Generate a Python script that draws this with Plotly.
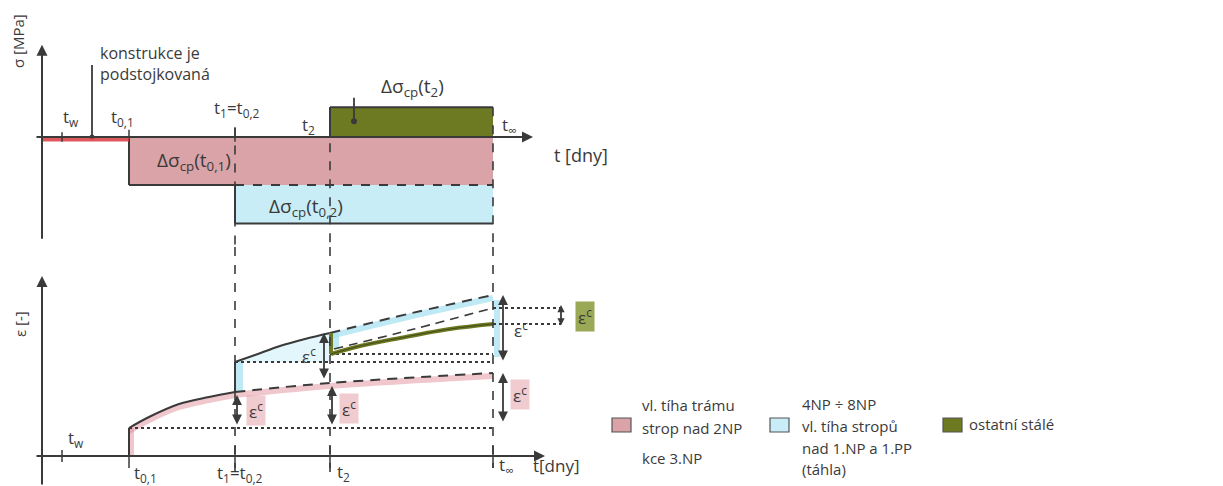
import plotly.graph_objects as go

# ---------------- data (schematic) ----------------
# time instants [days, schematic scale]
t_w, t_podst, t_01, t_1, t_2, t_inf = 20, 50, 87, 193, 288, 451
time_labels = ["t<sub>w</sub>", "t<sub>0,1</sub>", "t<sub>1</sub>=t<sub>0,2</sub>", "t<sub>2</sub>", "t<sub>∞</sub>"]

# stress increments [MPa, schematic]
ds_01 = -1.0   # vl. tíha trámu ... (pink)
ds_02 = -0.8   # 4NP ÷ 8NP ... (cyan)
ds_2 = 0.62    # ostatní stálé (olive)

# strain [-, schematic]
pink_el = 0.28
pink_creep_t = [87, 107, 137, 167, 193]
pink_creep_e = [0.28, 0.39, 0.52, 0.59, 0.64]
pink_fut_t = [193, 288, 451]
pink_fut_e = [0.64, 0.73, 0.83]

cyan_el = 0.94
cyan_creep_t = [193, 213, 238, 263, 288]
cyan_creep_e = [0.94, 1.01, 1.10, 1.17, 1.23]
cyan_fut_t = [288, 370, 451]
cyan_fut_e = [1.23, 1.43, 1.61]

olive_el = 1.02
olive_t = [289, 318, 358, 408, 451]
olive_e = [1.02, 1.10, 1.18, 1.27, 1.32]
cyan_shift_t = [292, 372, 451]
cyan_shift_e = [1.07, 1.27, 1.48]

legend_lines = [
    ["vl. tíha trámu", "strop nad 2NP", "kce 3.NP"],
    ["4NP ÷ 8NP", "vl. tíha stropů", "nad 1.NP a 1.PP", "(táhla)"],
    ["ostatní stálé"],
]

# ---------------- styles ----------------
INK = "#3a3a3a"
PINK = "#d9a3a7"
CYAN = "#c8edf7"
OLIVE = "#6e7a22"
PINK_HL = "rgba(222,130,142,0.45)"
CYAN_HL = "rgba(170,225,242,0.75)"
FONT = "Open Sans"
W, H = 1215, 478   # page adds an 8px body margin

fig = go.Figure()
shapes = []
ann = []


def seg(x0, y0, x1, y1, yref, color=INK, width=2, dash="solid"):
    shapes.append(dict(type="line", xref="x", yref=yref, x0=x0, y0=y0, x1=x1, y1=y1,
                       line=dict(color=color, width=width, dash=dash)))


def arrow(x, y, ax, ay, yref, double=False, width=1.8, size=1.1):
    ann.append(dict(x=x, y=y, ax=ax, ay=ay, xref="x", yref=yref, axref="x", ayref=yref,
                    text="", showarrow=True, arrowhead=2, arrowsize=size, arrowwidth=width,
                    arrowcolor=INK, arrowside="end+start" if double else "end", standoff=0,
                    startstandoff=0))


def label(x, y, text, yref, size=16, xanchor="center", yanchor="middle", angle=0, bg=None,
          align="center"):
    d = dict(x=x, y=y, xref="x", yref=yref, text=text, showarrow=False, xanchor=xanchor,
             yanchor=yanchor, textangle=angle, align=align,
             font=dict(family=FONT, size=size, color=INK))
    if bg:
        d.update(bgcolor=bg, borderpad=2)
    ann.append(d)


# ================= TOP PANEL: stress =================
s_pink_bot = ds_01
s_cyan_bot = ds_01 + ds_02
shapes.append(dict(type="rect", xref="x", yref="y", x0=t_01, x1=t_inf, y0=0, y1=s_pink_bot,
                   fillcolor=PINK, line=dict(width=0), layer="below"))
shapes.append(dict(type="rect", xref="x", yref="y", x0=t_1, x1=t_inf, y0=s_pink_bot, y1=s_cyan_bot,
                   fillcolor=CYAN, line=dict(width=0), layer="below"))
shapes.append(dict(type="rect", xref="x", yref="y", x0=t_2, x1=t_inf, y0=0, y1=ds_2,
                   fillcolor=OLIVE, line=dict(width=0), layer="below"))
seg(t_01, 0, t_01, s_pink_bot, "y")
seg(t_01, s_pink_bot, t_1, s_pink_bot, "y")
seg(t_1, s_pink_bot, t_inf, s_pink_bot, "y", dash="dash")
seg(t_1, s_pink_bot, t_1, s_cyan_bot, "y")
seg(t_1, s_cyan_bot, t_inf, s_cyan_bot, "y")
seg(t_2, 0, t_2, ds_2, "y")
seg(t_2, ds_2, t_inf, ds_2, "y")
seg(0, -0.04, t_01, -0.04, "y", color="rgba(215,60,65,0.85)", width=5)
# axes
arrow(0, 1.92, 0, -2.15, "y", width=2)
arrow(t_inf + 40, 0, -7, 0, "y", width=2)
# ticks
seg(t_w, -0.1, t_w, 0.1, "y", width=1.5)
seg(t_01, 0, t_01, 0.15, "y", width=1.5)
seg(t_1, -0.1, t_1, 0.2, "y", width=1.5)
# "konstrukce je podstojkovaná" marker
seg(t_podst, 0, t_podst, 1.5, "y", width=1.8)
fig.add_trace(go.Scatter(x=[t_podst], y=[0], mode="markers", marker=dict(color=INK, size=5),
                         xaxis="x", yaxis="y", hoverinfo="skip"))
label(t_podst + 6, 2.02, "konstrukce je<br>podstojkovaná", "y", size=16, xanchor="left",
      yanchor="top", align="left")
seg(t_2 + 24, 0.34, t_2 + 24, 0.82, "y", width=1.8)
fig.add_trace(go.Scatter(x=[t_2 + 24], y=[0.33], mode="markers", marker=dict(color=INK, size=6),
                         xaxis="x", yaxis="y", hoverinfo="skip"))
label(t_w + 9, 0.4, time_labels[0], "y", size=17)
label(t_01 - 20, 0.4, time_labels[1], "y", size=17, xanchor="left")
label(t_1 + 2, 0.6, time_labels[2], "y", size=17)
label(t_2 - 22, 0.25, time_labels[3], "y", size=17)
label(t_inf + 7, 0.25, time_labels[4], "y", size=17, xanchor="left")
label(t_inf + 88, -0.38, "t [dny]", "y", size=18)
label(-24, 2.0, "σ [MPa]", "y", size=15, angle=-90)
label((t_01 + t_1) / 2 + 12, s_pink_bot / 2, "Δσ<sub>cp</sub>(t<sub>0,1</sub>)", "y", size=19)
label(t_2 - 24, (s_pink_bot + s_cyan_bot) / 2 - 0.05, "Δσ<sub>cp</sub>(t<sub>0,2</sub>)", "y", size=19)
label(t_2 + 82, ds_2 + 0.42, "Δσ<sub>cp</sub>(t<sub>2</sub>)", "y", size=19)

for tx, top in [(t_1, 0.2), (t_2, ds_2), (t_inf, ds_2)]:
    seg(tx, top, tx, -2.30, "y", width=1.6, dash="dash")


# ================= BOTTOM PANEL: strain =================
def line_trace(x, y, color=INK, width=2, dash="solid", shape="spline", fill=None, fillcolor=None):
    fig.add_trace(go.Scatter(x=x, y=y, mode="lines", xaxis="x", yaxis="y2", hoverinfo="skip",
                             line=dict(color=color, width=width, dash=dash, shape=shape),
                             fill=fill, fillcolor=fillcolor))


line_trace(cyan_creep_t + [t_2, t_1], cyan_creep_e + [cyan_el, cyan_el], color="rgba(0,0,0,0)",
           width=0, shape="linear", fill="toself", fillcolor="rgba(200,237,247,0.5)")
line_trace([t_01 + 2, t_01 + 2], [0, pink_el], color=PINK_HL, width=6, shape="linear")
line_trace(pink_creep_t, [e - 0.03 for e in pink_creep_e], color=PINK_HL, width=6)
line_trace(pink_fut_t, [e - 0.03 for e in pink_fut_e], color=PINK_HL, width=6)
line_trace([t_1 + 4, t_1 + 4], [pink_creep_e[-1], cyan_el], color=CYAN_HL, width=8, shape="linear")
line_trace(cyan_fut_t, [e - 0.03 for e in cyan_fut_e], color=CYAN_HL, width=6)
line_trace([t_inf + 4, t_inf + 4], [cyan_el + 0.05, cyan_fut_e[-1] - 0.05], color=CYAN_HL, width=6,
           shape="linear")
line_trace([t_2 + 6, t_2 + 6], [olive_el + 0.05, cyan_creep_e[-1]], color=CYAN_HL, width=6, shape="linear")

for lvl, t0, t1 in [(pink_el, t_01, t_inf), (cyan_el, t_1, t_inf), (olive_el, t_2, t_inf),
                    (cyan_shift_e[-1], t_inf, t_inf + 68), (olive_e[-1], t_inf, t_inf + 68)]:
    line_trace([t0, t1], [lvl, lvl], color=INK, width=2, dash="dot", shape="linear")

line_trace([t_01, t_01], [0, pink_el], shape="linear")
line_trace(pink_creep_t, pink_creep_e)
line_trace(pink_fut_t, pink_fut_e, dash="10px,7px")
line_trace([t_1, t_1], [pink_creep_e[-1], cyan_el], shape="linear")
line_trace(cyan_creep_t, cyan_creep_e)
line_trace(cyan_fut_t, cyan_fut_e, dash="10px,7px")
line_trace(cyan_shift_t, cyan_shift_e, dash="9px,6px", width=1.6)
line_trace([t_2 + 1, t_2 + 1, olive_t[0]], [cyan_creep_e[-1], olive_el, olive_el], color=OLIVE,
           width=4, shape="linear")
line_trace(olive_t, olive_e, color=OLIVE, width=4)
line_trace(olive_t, olive_e, color="rgba(40,40,20,0.6)", width=1)

arrow(0, 1.80, 0, -0.30, "y2", width=2)
arrow(t_inf + 52, 0, -7, 0, "y2", width=2)
seg(t_w, -0.06, t_w, 0.06, "y2", width=1.5)
for tx in [t_01, t_1, t_2, t_inf]:
    seg(tx, -0.12, tx, 0.1, "y2", width=1.5)
for tx, bot in [(t_1, -0.22), (t_2, -0.22), (t_inf, -0.12)]:
    seg(tx, 2.09, tx, bot, "y2", width=1.6, dash="dash")

arrow(t_1 + 2, pink_creep_e[-1] - 0.03, t_1 + 2, pink_el + 0.02, "y2", double=True)
arrow(t_2 + 2, pink_fut_e[1] - 0.03, t_2 + 2, pink_el + 0.02, "y2", double=True)
arrow(t_2 - 6, cyan_creep_e[-1], t_2 - 6, pink_fut_e[1] + 0.03, "y2", double=True)
arrow(t_inf + 10, cyan_fut_e[-1], t_inf + 10, cyan_el, "y2", double=True)
arrow(t_inf + 10, pink_fut_e[-1], t_inf + 10, pink_el + 0.05, "y2", double=True)
arrow(t_inf + 68, cyan_shift_e[-1] + 0.03, t_inf + 68, olive_e[-1] - 0.03, "y2", double=True,
      size=0.8)

label(t_1 + 21, 0.46, "ε<sup>c</sup>", "y2", size=17, bg="rgba(222,140,150,0.45)")
label(t_2 + 19, 0.48, "ε<sup>c</sup>", "y2", size=17, bg="rgba(222,140,150,0.45)")
label(t_2 - 21, 1.01, "ε<sup>c</sup>", "y2", size=17)
label(t_inf + 28, 1.27, "ε<sup>c</sup>", "y2", size=17)
label(t_inf + 27, 0.62, "ε<sup>c</sup>", "y2", size=17, bg="rgba(222,140,150,0.45)")
label(t_inf + 92, 1.40, "ε<sup>c</sup>", "y2", size=17, bg="rgba(120,140,30,0.75)")

label(-22, 1.32, "ε [-]", "y2", size=15, angle=-90)
label(t_w + 14, 0.18, time_labels[0], "y2", size=17)
label(t_01 + 3, -0.17, time_labels[1], "y2", size=17, xanchor="left")
label(t_1 + 5, -0.17, time_labels[2], "y2", size=17)
label(t_2 + 5, -0.16, time_labels[3], "y2", size=17, xanchor="left")
label(t_inf + 4, -0.09, time_labels[4], "y2", size=17, xanchor="left")
label(t_inf + 38, -0.09, "t[dny]", "y2", size=17, xanchor="left")


# ================= legend (manual, page pixel -> paper) =================
def px(x):
    return (x - 8) / W


def py(y):
    return 1 - (y - 8) / H


legend_boxes = [(612, PINK), (770, CYAN), (943, OLIVE)]
legend_text_x = [640, 800, 967]
legend_text_y = [[405, 428, 458], [404, 426, 448, 469], [424]]
for (bx, col), lines, tx, tys in zip(legend_boxes, legend_lines, legend_text_x, legend_text_y):
    shapes.append(dict(type="rect", xref="paper", yref="paper", x0=px(bx), x1=px(bx + 19),
                       y0=py(432), y1=py(418), fillcolor=col, line=dict(color="#555", width=1.2)))
    for line_txt, ty in zip(lines, tys):
        ann.append(dict(x=px(tx), y=py(ty), xref="paper", yref="paper", text=line_txt,
                        showarrow=False, xanchor="left", yanchor="middle",
                        font=dict(family=FONT, size=15, color=INK)))

fig.update_layout(
    width=W, height=H,
    margin=dict(l=0, r=0, t=0, b=0),
    paper_bgcolor="white", plot_bgcolor="white",
    showlegend=False,
    xaxis=dict(domain=[0, 1], range=[-34, 1181], visible=False, fixedrange=True),
    yaxis=dict(domain=[0.5, 1], range=[-2.2917, 2.6875], visible=False, anchor="x"),
    yaxis2=dict(domain=[0, 0.5], range=[-0.30, 2.09], visible=False, anchor="x"),
    shapes=shapes,
    annotations=ann,
)

fig.write_html("out.html")
